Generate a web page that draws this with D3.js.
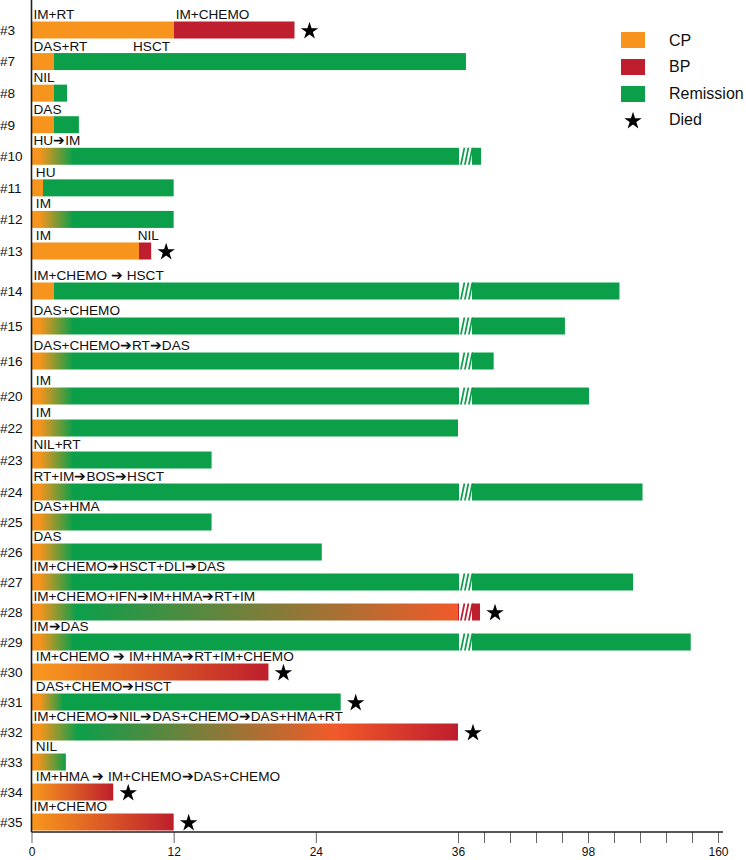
<!DOCTYPE html>
<html>
<head>
<meta charset="utf-8">
<script src="https://cdn.jsdelivr.net/npm/d3@7"></script>
<style>
    body { margin: 0; background: #fff; }
    svg { display: block; font-family: "Liberation Sans", Arial, sans-serif; }
</style>
</head>
<body>
<svg id="chart" width="746" height="860"></svg>
<script>
"use strict";

// patients, top to bottom
var patients = ["#3", "#7", "#8", "#9", "#10", "#11", "#12", "#13", "#14", "#15", "#16", "#20", "#22",
    "#23", "#24", "#25", "#26", "#27", "#28", "#29", "#30", "#31", "#32", "#33", "#34", "#35"]

// follow-up in months
var duration = [22.2, 39.8, 3.0, 4.0, 47, 12, 12, 10.1, 113, 87, 53, 98.5, 36,
    15.2, 124, 15.2, 24.5, 119.5, 46.5, 147, 20, 26.1, 36, 2.9, 6.9, 12]

var died = [1, 0, 0, 0, 0, 0, 0, 1, 0, 0, 0, 0, 0,
    0, 0, 0, 0, 0, 1, 0, 1, 1, 1, 0, 1, 1]

// axis break drawn on the bar
var broken = [0, 0, 0, 0, 1, 0, 0, 0, 1, 1, 1, 1, 0,
    0, 1, 0, 0, 1, 1, 1, 0, 0, 0, 0, 0, 0]

// disease phase along the bar: [month, phase]
var phaseStops = [
    [[0, "CP"], [12, "CP"], [12, "BP"]],
    [[0, "CP"], [1.9, "CP"], [1.9, "REM"]],
    [[0, "CP"], [1.9, "CP"], [1.9, "REM"]],
    [[0, "CP"], [1.9, "CP"], [1.9, "REM"]],
    [[0, "CP"], [0.7, "CP"], [3.5, "REM"]],
    [[0, "CP"], [1, "CP"], [1, "REM"]],
    [[0, "CP"], [0.7, "CP"], [3.5, "REM"]],
    [[0, "CP"], [9.1, "CP"], [9.1, "BP"]],
    [[0, "CP"], [1.9, "CP"], [1.9, "REM"]],
    [[0, "CP"], [0.7, "CP"], [3.5, "REM"]],
    [[0, "CP"], [0.7, "CP"], [3.5, "REM"]],
    [[0, "CP"], [0.7, "CP"], [3.5, "REM"]],
    [[0, "CP"], [0.7, "CP"], [3.5, "REM"]],
    [[0, "CP"], [0.7, "CP"], [3.5, "REM"]],
    [[0, "CP"], [0.7, "CP"], [3.5, "REM"]],
    [[0, "CP"], [0.7, "CP"], [3.5, "REM"]],
    [[0, "CP"], [0.7, "CP"], [3.5, "REM"]],
    [[0, "CP"], [0.7, "CP"], [3.5, "REM"]],
    [[0, "CP"], [0.7, "CP"], [3.8, "REM"], [36, "TR"], [36, "BP"]],
    [[0, "CP"], [0.7, "CP"], [3.5, "REM"]],
    [[0, "CP"], [1, "CP"], [20, "BP"]],
    [[0, "CP"], [0.7, "CP"], [2.7, "REM"]],
    [[0, "CP"], [0.7, "CP"], [3.9, "REM"], [25.5, "TR"], [36, "BP"]],
    [[0, "CP"], [0.5, "CP"], [2.9, "REM"]],
    [[0, "CP"], [0.3, "CP"], [6.9, "BP"]],
    [[0, "CP"], [0.3, "CP"], [12, "BP"]]
]

// treatment labels: [month, text]
var treatments = [
    [[0, "IM+RT"], [12, "IM+CHEMO"]],
    [[0, "DAS+RT"], [8.4, "HSCT"]],
    [[0, "NIL"]],
    [[0, "DAS"]],
    [[0, "HU\u2794IM"]],
    [[0.2, "HU"]],
    [[0.2, "IM"]],
    [[0.2, "IM"], [8.8, "NIL"]],
    [[0, "IM+CHEMO \u2794 HSCT"]],
    [[0, "DAS+CHEMO"]],
    [[0, "DAS+CHEMO\u2794RT\u2794DAS"]],
    [[0.2, "IM"]],
    [[0.2, "IM"]],
    [[0, "NIL+RT"]],
    [[0, "RT+IM\u2794BOS\u2794HSCT"]],
    [[0, "DAS+HMA"]],
    [[0, "DAS"]],
    [[0, "IM+CHEMO\u2794HSCT+DLI\u2794DAS"]],
    [[0, "IM+CHEMO+IFN\u2794IM+HMA\u2794RT+IM"]],
    [[0, "IM\u2794DAS"]],
    [[0.2, "IM+CHEMO \u2794 IM+HMA\u2794RT+IM+CHEMO"]],
    [[0.2, "DAS+CHEMO\u2794HSCT"]],
    [[0, "IM+CHEMO\u2794NIL\u2794DAS+CHEMO\u2794DAS+HMA+RT"]],
    [[0.2, "NIL"]],
    [[0.2, "IM+HMA \u2794 IM+CHEMO\u2794DAS+CHEMO"]],
    [[0, "IM+CHEMO"]]
]

var tickValues = [0, 12, 24, 36, 48.4, 60.8, 73.2, 85.6, 98, 110.4, 122.8, 135.2, 147.6, 160]
var tickLabels = ["0", "12", "24", "36", "", "", "", "", "98", "", "", "", "", "160"]

var legendKeys = ["CP", "BP", "REM"]
var legendNames = ["CP", "BP", "Remission", "Died"]

var color = d3.scaleOrdinal()
    .domain(["CP", "BP", "REM", "TR"])
    .range(["#F7941D", "#BE1E2D", "#0C9F4A", "#F15A29"])

var svg = d3.select("#chart")
var defs = svg.append("defs")

// first 36 months linear, the rest squeezed
var x = d3.scaleLinear().domain([0, 36, 160]).range([31.5, 458, 718])
var y = d3.scaleLinear()
    .domain([0, 7, 8, 11, 14, 25])
    .range([30, 251, 291, 396, 492, 822])

var barH = 17
var axisY = 832
var labelSize = 13.6
var star = d3.symbol().type(d3.symbolStar).size(95)

var rows = patients.map(function(p, i) {
    return {
        id: p, i: i, end: duration[i], died: died[i], broken: broken[i],
        stops: phaseStops[i], labels: treatments[i]
    }
})

// one gradient per bar, in user space so the stops follow the x scale
rows.forEach(function(d) {
    var x0 = x(0), x1 = x(d.end)
    var g = defs.append("linearGradient")
        .attr("id", "grad" + d.i)
        .attr("gradientUnits", "userSpaceOnUse")
        .attr("x1", x0).attr("x2", x1)
        .attr("y1", 0).attr("y2", 0)
    d.stops.forEach(function(s) {
        g.append("stop")
            .attr("offset", Math.min(1, (x(s[0]) - x0) / (x1 - x0)))
            .attr("stop-color", color(s[1]))
    })
})

var row = svg.selectAll(".row")
    .data(rows).enter()
    .append("g")
    .attr("class", "row")

row.append("rect")
    .attr("class", "bar")
    .attr("x", x(0))
    .attr("y", function(d) { return y(d.i) - barH / 2 })
    .attr("width", function(d) { return x(d.end) - x(0) })
    .attr("height", barH)
    .attr("fill", function(d) { return "url(#grad" + d.i + ")" })

// axis break marks
var br = row.filter(function(d) { return d.broken })
br.append("rect")
    .attr("x", x(36) + 1)
    .attr("y", function(d) { return y(d.i) - barH / 2 - 0.5 })
    .attr("width", 13)
    .attr("height", barH + 1)
    .attr("fill", "#fff")
br.each(function(d) {
    var g = d3.select(this)
    var top = y(d.i) - barH / 2, bottom = top + barH
    ;[0, 1, 2].forEach(function(k) {
        var bx = x(36) + 2 + k * 4
        g.append("path")
            .attr("d", "M" + bx + "," + bottom + "L" + (bx + 1.8) + "," + bottom +
                "L" + (bx + 5.3) + "," + top + "L" + (bx + 3.5) + "," + top + "Z")
            .attr("fill", "url(#grad" + d.i + ")")
    })
})

row.filter(function(d) { return d.died })
    .append("path")
    .attr("d", star)
    .attr("transform", function(d) {
        return "translate(" + (x(d.end) + 15) + "," + (y(d.i) + 1) + ")"
    })
    .attr("fill", "#000")

row.selectAll(".treat")
    .data(function(d) {
        return d.labels.map(function(l) { return { t: l[0], text: l[1], i: d.i } })
    })
    .enter().append("text")
    .attr("class", "treat")
    .attr("x", function(d) { return x(d.t) + 2 })
    .attr("y", function(d) { return y(d.i) - barH / 2 - 2.5 })
    .attr("font-size", labelSize)
    .attr("fill", "#111")
    .text(function(d) { return d.text })

row.append("text")
    .attr("x", 0)
    .attr("y", function(d) { return y(d.i) })
    .attr("dy", "0.36em")
    .attr("font-size", labelSize)
    .attr("fill", "#111")
    .text(function(d) { return d.id })

// axes
var xAxis = d3.axisBottom(x)
    .tickValues(tickValues)
    .tickFormat(function(d, i) { return tickLabels[i] })
    .tickSize(11)
    .tickSizeOuter(0)
    .tickPadding(4)

var gx = svg.append("g")
    .attr("class", "axis axis-x")
    .attr("transform", "translate(0," + axisY + ")")
    .call(xAxis)
gx.select(".domain").remove()
gx.selectAll(".tick line").attr("stroke", "#666")
gx.selectAll(".tick text")
    .attr("fill", "#111")
    .attr("font-size", 12)
    .attr("font-family", "Liberation Sans, Arial, sans-serif")

svg.append("line")
    .attr("x1", x(0)).attr("x2", 723)
    .attr("y1", axisY).attr("y2", axisY)
    .attr("stroke", "#231F20")
    .attr("stroke-width", 1.6)

svg.append("line")
    .attr("x1", x(0)).attr("x2", x(0))
    .attr("y1", 0).attr("y2", axisY)
    .attr("stroke", "#231F20")
    .attr("stroke-width", 1.6)

// legend
var legend = svg.append("g").attr("class", "legend")
legend.selectAll("rect")
    .data(legendKeys).enter()
    .append("rect")
    .attr("x", 621)
    .attr("y", function(d, i) { return 32 + i * 27 })
    .attr("width", 24)
    .attr("height", 16)
    .attr("fill", function(d) { return color(d) })
legend.append("path")
    .attr("d", star)
    .attr("transform", "translate(633,121)")
    .attr("fill", "#000")
legend.selectAll("text")
    .data(legendNames).enter()
    .append("text")
    .attr("x", 669)
    .attr("y", function(d, i) { return 40 + i * 26.5 })
    .attr("dy", "0.36em")
    .attr("font-size", 16)
    .attr("fill", "#111")
    .text(function(d) { return d })
</script>
</body>
</html>
